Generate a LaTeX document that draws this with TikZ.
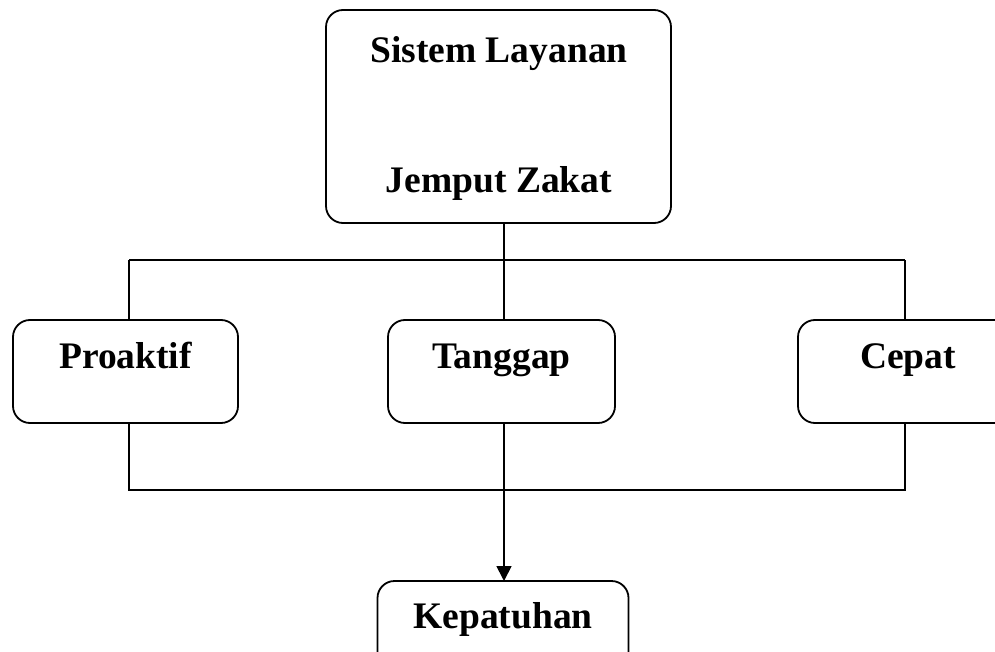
\documentclass[tikz,border=0pt]{standalone}
\usepackage{fontspec}
\setmainfont{Liberation Serif}
\usetikzlibrary{arrows.meta}
\begin{document}
\begin{tikzpicture}[x=1pt,y=-1pt,
  box/.style={draw=black,line width=1.8pt,rounded corners=17pt,inner sep=0pt,outer sep=0pt,fill=white},
  lbl/.style={anchor=base,inner sep=0pt,font=\fontsize{37.5}{40}\selectfont\bfseries},
  conn/.style={draw=black,line width=1.8pt}]
\useasboundingbox (0,0) rectangle (995,652);
\clip (0,0) rectangle (995,652);
\fill[white] (0,0) rectangle (995,652);
% boxes
\node[box,minimum width=345pt,minimum height=213pt] (top) at (498.5,116.5) {};
\node[box,minimum width=225pt,minimum height=103pt] (pro) at (125.5,371.5) {};
\node[box,minimum width=227pt,minimum height=103pt] (tan) at (501.5,371.5) {};
\node[box,minimum width=214pt,minimum height=103pt] (cep) at (905,371.5) {};
\node[box,minimum width=251pt,minimum height=110pt] (kep) at (503,636) {};
% texts
\node[lbl] (t1) at (499,63) {Sistem Layanan};
\node[lbl] (t2) at (499,193) {Jemput Zakat};
\node[lbl] (tp) at (125.5,368) {Proaktif};
\node[lbl] (tt) at (501.5,368) {Tanggap};
\node[lbl] (tc) at (908,368) {Cepat};
\node[lbl] (tk) at (503,628) {Kepatuhan};
% bus coordinates
\coordinate (busL) at (129,260);
\coordinate (busR) at (905,260);
\coordinate (lowL) at (129,490);
\coordinate (lowR) at (905,490);
% connectors
\draw[conn] (top.south -| 504,0) -- (504,0 |- tan.north);
\draw[conn] (busL) -- (busR);
\draw[conn] (busL) -- (busL |- pro.north);
\draw[conn] (busR) -- (busR |- cep.north);
\draw[conn] (lowL |- pro.south) -- (lowL) -- (lowR) -- (lowR |- cep.south);
\draw[conn,-{Triangle[length=15pt,width=15pt]}] (504,0 |- tan.south) -- (504,0 |- kep.north);
\end{tikzpicture}
\end{document}
